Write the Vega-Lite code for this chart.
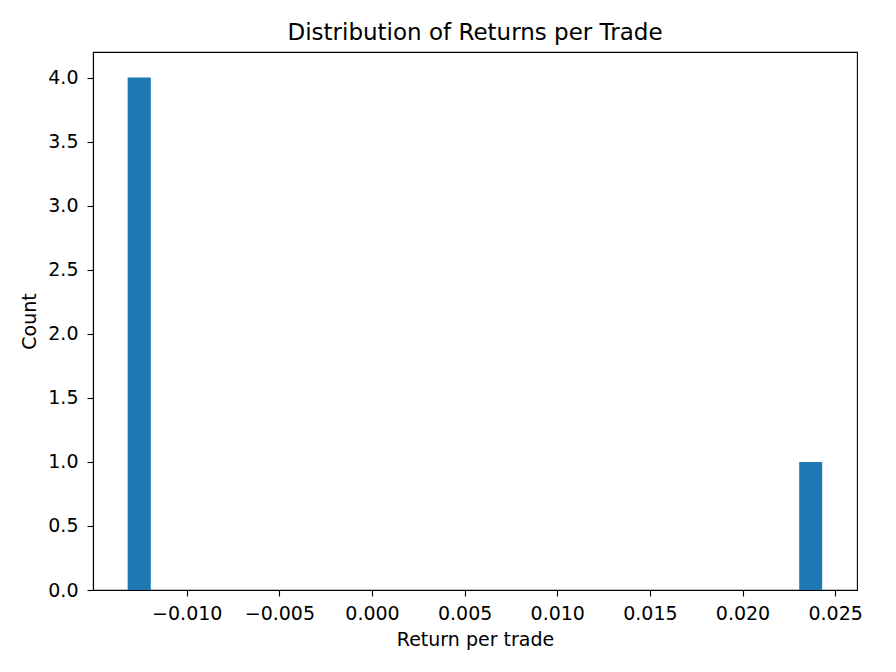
{
  "$schema": "https://vega.github.io/schema/vega-lite/v6.json",
  "width": 764,
  "height": 538,
  "autosize": "none",
  "padding": {"left": 93, "top": 52, "right": 39, "bottom": 82},
  "background": "white",
  "title": {
    "text": "Distribution of Returns per Trade",
    "font": "DejaVu Sans",
    "fontSize": 23,
    "fontWeight": "normal",
    "color": "black",
    "offset": 7
  },
  "config": {
    "view": {"stroke": "black", "strokeWidth": 1.1},
    "axis": {
      "grid": false,
      "domainColor": "black",
      "domainWidth": 1.1,
      "tickColor": "black",
      "tickSize": 6,
      "tickWidth": 1.1,
      "labelFont": "DejaVu Sans",
      "labelFontSize": 19,
      "labelColor": "black",
      "titleFont": "DejaVu Sans",
      "titleFontSize": 19,
      "titleFontWeight": "normal",
      "titleColor": "black"
    }
  },
  "data": {
    "values": [
      {"bin_start": -0.01319, "bin_end": -0.01194, "count": 4},
      {"bin_start": 0.02306, "bin_end": 0.0243, "count": 1}
    ]
  },
  "mark": {"type": "rect", "color": "#1f77b4"},
  "encoding": {
    "x": {
      "field": "bin_start",
      "type": "quantitative",
      "scale": {"domain": [-0.01506, 0.02618], "nice": false, "zero": false},
      "axis": {
        "values": [-0.01, -0.005, 0, 0.005, 0.01, 0.015, 0.02, 0.025],
        "format": ".3f",
        "title": "Return per trade",
        "labelPadding": 8,
        "titlePadding": 7
      }
    },
    "x2": {"field": "bin_end"},
    "y": {
      "field": "count",
      "type": "quantitative",
      "scale": {"domain": [0, 4.2], "nice": false},
      "axis": {
        "values": [0, 0.5, 1, 1.5, 2, 2.5, 3, 3.5, 4],
        "format": ".1f",
        "title": "Count",
        "labelPadding": 9,
        "titlePadding": 8
      }
    },
    "y2": {"datum": 0}
  }
}
